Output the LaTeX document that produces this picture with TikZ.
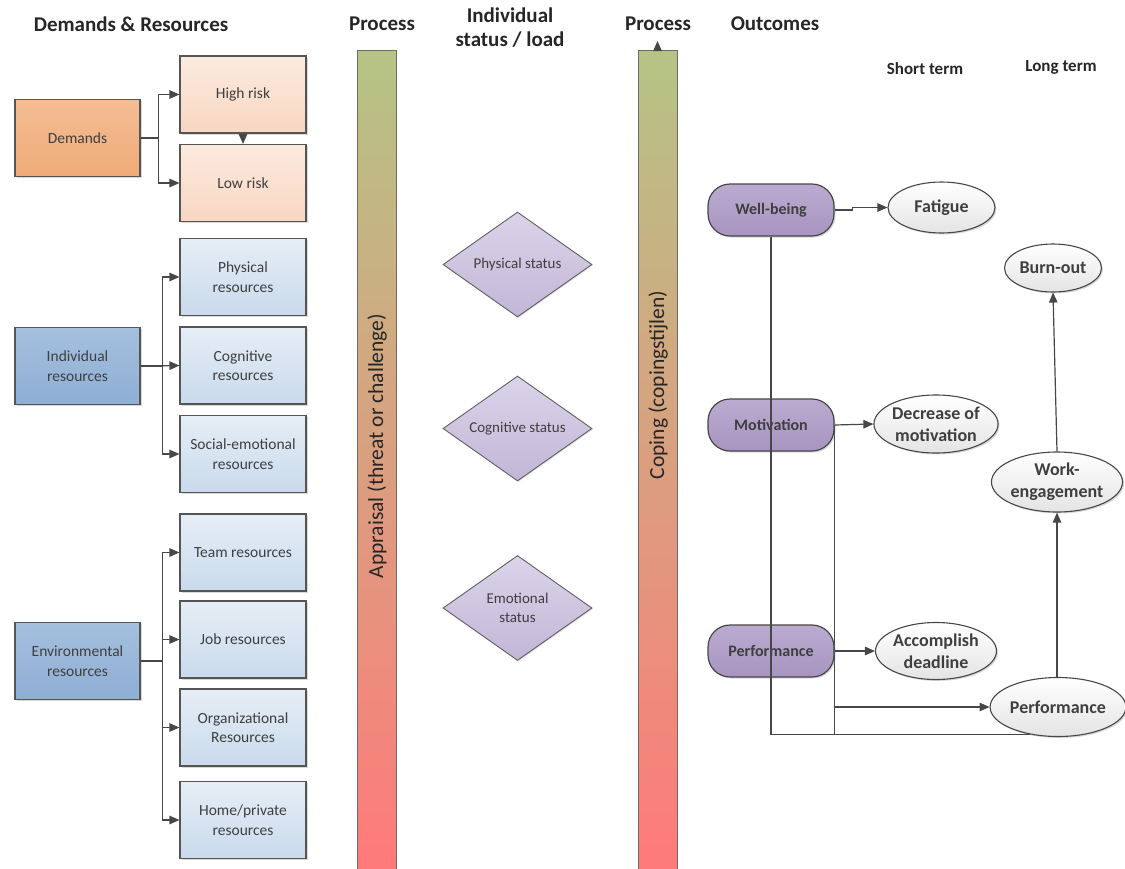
\documentclass[tikz,border=0pt]{standalone}
\usepackage{fontspec}
\setmainfont{Carlito}
\usetikzlibrary{shapes.geometric,arrows.meta,shadows,backgrounds,calc}
\definecolor{txt}{HTML}{3F3F3F}
\definecolor{hdrc}{HTML}{262626}
\definecolor{edge}{HTML}{555555}
\definecolor{lnc}{HTML}{474747}
\definecolor{demT}{HTML}{F5BD94}
\definecolor{demB}{HTML}{EFAB78}
\definecolor{riskT}{HTML}{FCEADF}
\definecolor{riskB}{HTML}{F8D7C2}
\definecolor{grpT}{HTML}{A5C0DF}
\definecolor{grpB}{HTML}{8EAED4}
\definecolor{resT}{HTML}{E6EEF6}
\definecolor{resB}{HTML}{C9DAEC}
\definecolor{diaT}{HTML}{DBD4E9}
\definecolor{diaB}{HTML}{C2B6D7}
\definecolor{purT}{HTML}{BBABD0}
\definecolor{purB}{HTML}{A794C1}
\definecolor{ellB}{HTML}{E4E4E4}
\definecolor{barT}{HTML}{B5C485}
\definecolor{barB}{HTML}{FF7A7A}
\begin{document}
\begin{tikzpicture}[x=1pt,y=-1pt,
  every node/.style={text=txt},
  hdr/.style={font=\fontsize{21}{24}\selectfont\bfseries, text=hdrc, align=center, inner sep=0pt},
  sub/.style={font=\fontsize{17}{20}\selectfont\bfseries, text=hdrc, inner sep=0pt},
  box/.style={rectangle, draw=edge, line width=1.1pt, minimum width=125pt, minimum height=77pt, inner sep=2pt, align=center,
    font=\fontsize{15.5}{19.5}\selectfont, drop shadow={shadow xshift=1.5pt, shadow yshift=-1.5pt, opacity=0.3}},
  demand/.style={box, top color=demT, bottom color=demB},
  risk/.style={box, minimum width=126pt, top color=riskT, bottom color=riskB},
  grp/.style={box, top color=grpT, bottom color=grpB},
  res/.style={box, minimum width=126pt, top color=resT, bottom color=resB},
  diam/.style={diamond, aspect=1.42, minimum width=149pt, minimum height=105pt, inner sep=0pt, draw=gray!75!black, line width=0.9pt,
    top color=diaT, bottom color=diaB, font=\fontsize{15}{19}\selectfont, align=center,
    drop shadow={shadow xshift=1pt, shadow yshift=-1pt, opacity=0.25}},
  pbox/.style={rectangle, rounded corners=22pt, draw=lnc, line width=1.2pt, top color=purT, bottom color=purB,
    minimum width=126pt, minimum height=52pt, inner sep=0pt, font=\fontsize{16}{19}\selectfont\bfseries,
    drop shadow={shadow xshift=1.5pt, shadow yshift=-1.5pt, opacity=0.3}},
  ell/.style={ellipse, draw=lnc, line width=1.1pt, top color=white, bottom color=ellB, inner sep=0pt,
    font=\fontsize{18}{22}\selectfont\bfseries, align=center,
    drop shadow={shadow xshift=1.5pt, shadow yshift=-1.5pt, opacity=0.3}},
  bar/.style={rectangle, draw=gray!85!black, line width=0.9pt, minimum width=39pt, minimum height=822pt, inner sep=0pt,
    top color=barT, bottom color=barB, anchor=north},
  bartext/.style={rotate=90, font=\fontsize{21.5}{24}\selectfont, text=hdrc, inner sep=0pt},
  line/.style={draw=lnc, line width=1.2pt},
  arr/.style={line, -{Triangle[length=10pt,width=8.5pt]}}
]
\useasboundingbox (0,0) rectangle (1125,868);

% headers
\node[hdr] (h1) at (131,24) {Demands \& Resources};
\node[hdr] (h2) at (382,24) {Process};
\node[hdr] (h3) at (510,28) {Individual\\status / load};
\node[hdr] (h4) at (658,24) {Process};
\node[hdr] (h5) at (775,24) {Outcomes};
\node[sub] (h6) at (925,69) {Short term};
\node[sub] (h7) at (1061,67) {Long term};

% process bars
\begin{scope}
\clip (0,0) rectangle (1125,868);
\node[bar] (b1) at (376.5,50) {};
\node[bar] (b2) at (657.5,50) {};
\end{scope}
\node[bartext] (t1) at (377,446) {Appraisal (threat or challenge)};
\node[bartext] (t2) at (658,385) {Coping (copingstijlen)};
\coordinate (b2top) at ($(b2.north)+(0,-9)$);
\draw[arr] (b2.north) -- (b2top);

% demands
\node[demand] (dem) at (77.5,138) {Demands};
\node[risk] (hr) at (243,94.5) {High risk};
\node[risk] (lr) at (243,183) {Low risk};
\draw[arr] (dem.east) -- ++(18,0) |- (hr);
\draw[arr] (dem.east) -- ++(18,0) |- (lr);
\draw[arr] (hr.south) -- (lr.north);

% individual resources
\node[grp] (ind) at (77.5,366) {Individual\\resources};
\node[res] (phy) at (243,277) {Physical\\resources};
\node[res] (cog) at (243,365.5) {Cognitive\\resources};
\node[res] (soc) at (243,454) {Social-emotional\\resources};
\draw[arr] (ind.east) -- ++(22,0) |- (phy);
\draw[arr] (ind.east) -- (cog.west);
\draw[arr] (ind.east) -- ++(22,0) |- (soc);

% environmental resources
\node[grp] (env) at (77.5,661) {Environmental\\resources};
\node[res] (team) at (243,552.5) {Team resources};
\node[res] (job) at (243,639.5) {Job resources};
\node[res] (org) at (243,727.5) {Organizational\\Resources};
\node[res] (home) at (243,820) {Home/private\\resources};
\draw[arr] (env.east) -- ++(22,0) |- (team);
\draw[arr] (env.east) -- ++(22,0) |- (job);
\draw[arr] (env.east) -- ++(22,0) |- (org);
\draw[arr] (env.east) -- ++(22,0) |- (home);

% status diamonds
\node[diam] (ps) at (517.5,264.5) {Physical status};
\node[diam] (cs) at (517.5,428.5) {Cognitive status};
\node[diam] (es) at (517.5,608) {Emotional\\status};

% outcomes
\node[pbox] (wb) at (771,210) {Well-being};
\node[pbox] (mot) at (771,425) {Motivation};
\node[pbox] (prf) at (771,651) {Performance};

\node[ell, minimum width=107pt, minimum height=51pt] (fat) at (941.5,207.5) {Fatigue};
\node[ell, minimum width=119pt, minimum height=58pt] (dec) at (936,424) {Decrease of\\motivation};
\node[ell, minimum width=119pt, minimum height=57pt] (acc) at (936,651) {Accomplish\\deadline};
\node[ell, minimum width=97pt, minimum height=48pt] (bo) at (1053,268) {Burn-out};
\node[ell, minimum width=118pt, minimum height=60pt] (we) at (1057,482) {Work-\\engagement};
\node[ell, minimum width=120pt, minimum height=59pt] (pf) at (1058,707) {Performance};

\begin{scope}[on background layer]
\draw[line] (mot.east) -- (mot.east |- pf.-135);
\end{scope}
\draw[arr] (wb.east) -- ++(18,0) |- (fat.west);
\draw[arr] (mot.east) -- (dec.west);
\draw[arr] (prf.east) -- (acc.west);
\draw[arr] (mot.east |- pf.west) -- (pf.west);
\draw[line] (wb.south) |- (pf.-135);
\draw[arr] (pf.north -| we.south) -- (we.south);
\draw[arr] (we.north) -- (bo.south);
\end{tikzpicture}
\end{document}
